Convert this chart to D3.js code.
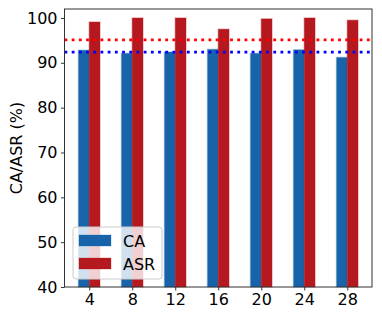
<!DOCTYPE html>
<html>
<head>
<meta charset="utf-8">
<script src="https://cdn.jsdelivr.net/npm/d3@7"></script>
<style>
  html, body { margin: 0; padding: 0; background: #fff; }
  svg { display: block; font-family: "DejaVu Sans", sans-serif; }
</style>
</head>
<body>
<svg id="chart" width="382" height="318"></svg>
<script>
// data
const categories = ['4', '8', '12', '16', '20', '24', '28'];
const caValues  = [92.8, 92.1, 92.4, 93.0, 92.1, 92.9, 91.2];
const asrValues = [99.1, 100.0, 100.0, 97.5, 99.8, 100.0, 99.5];
const refLines = [
  { value: 95.1, color: '#ff0000' },
  { value: 92.4, color: '#0000ff' }
];
const yTicks = [40, 50, 60, 70, 80, 90, 100];
const seriesNames = ['CA', 'ASR'];
const seriesColors = ['#1764ab', '#b5181e'];

const margin = { left: 64.5, right: 10, top: 9, bottom: 31 };
const width = 382, height = 318;

const svg = d3.select('#chart');

const x = d3.scaleLinear()
  .domain([-0.575, categories.length - 1 + 0.575])
  .range([margin.left, width - margin.right]);

const y = d3.scaleLinear()
  .domain([40, 102])
  .range([height - margin.bottom, margin.top]);

const barW = 0.25;

// bars
const series = [caValues, asrValues];
series.forEach((vals, s) => {
  svg.append('g')
    .selectAll('rect')
    .data(vals)
    .join('rect')
    .attr('x', (d, i) => x(i - barW + s * barW))
    .attr('width', x(barW) - x(0))
    .attr('y', d => y(d))
    .attr('height', d => y(40) - y(d))
    .attr('fill', seriesColors[s])
    .attr('stroke', seriesColors[s])
    .attr('stroke-opacity', 0.3)
    .attr('stroke-width', 1.5);
});

// dotted reference lines
svg.append('g')
  .selectAll('line')
  .data(refLines)
  .join('line')
  .attr('x1', x.range()[0])
  .attr('x2', x.range()[1])
  .attr('y1', d => y(d.value))
  .attr('y2', d => y(d.value))
  .attr('stroke', d => d.color)
  .attr('stroke-width', 2.8)
  .attr('stroke-dasharray', '2.8,4.4');

// axes
const yAxis = svg.append('g')
  .attr('transform', `translate(${margin.left},0)`)
  .call(d3.axisLeft(y).tickValues(yTicks).tickSize(3.5).tickPadding(3.5));

const xAxis = svg.append('g')
  .attr('transform', `translate(0,${height - margin.bottom})`)
  .call(d3.axisBottom(x).tickValues(d3.range(categories.length))
    .tickFormat(i => categories[i]).tickSize(3.5).tickPadding(3.5));

[xAxis, yAxis].forEach(a => {
  a.select('.domain').remove();
  a.selectAll('text').attr('font-size', 16).attr('fill', '#000')
    .attr('font-family', '"DejaVu Sans", sans-serif');
  a.selectAll('line').attr('stroke', '#000').attr('stroke-width', 0.8);
});

// frame
svg.append('rect')
  .attr('x', x.range()[0])
  .attr('y', y.range()[1])
  .attr('width', x.range()[1] - x.range()[0])
  .attr('height', y.range()[0] - y.range()[1])
  .attr('fill', 'none')
  .attr('stroke', '#333')
  .attr('stroke-width', 1);

// y label
svg.append('text')
  .attr('transform', `translate(22,${(y.range()[0] + y.range()[1]) / 2}) rotate(-90)`)
  .attr('text-anchor', 'middle')
  .attr('font-size', 16)
  .text('CA/ASR (%)');

// legend
const lg = svg.append('g').attr('transform', 'translate(73,227)');
lg.append('rect')
  .attr('width', 89).attr('height', 52).attr('rx', 3)
  .attr('fill', '#fff').attr('fill-opacity', 0.8)
  .attr('stroke', '#ccc').attr('stroke-width', 1);
seriesNames.forEach((name, i) => {
  lg.append('rect')
    .attr('x', 6).attr('y', 8 + i * 23)
    .attr('width', 32).attr('height', 11)
    .attr('fill', seriesColors[i])
    .attr('stroke', seriesColors[i]).attr('stroke-opacity', 0.3);
  lg.append('text')
    .attr('x', 50).attr('y', 19.5 + i * 23)
    .attr('font-size', 16)
    .text(name);
});
</script>
</body>
</html>
